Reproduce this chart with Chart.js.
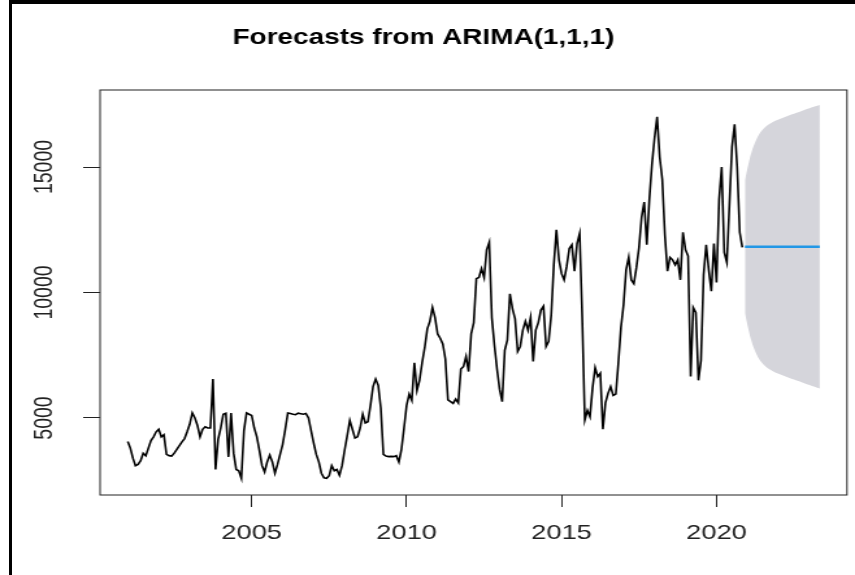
<!DOCTYPE html>
<html>
<head>
<meta charset="utf-8">
<title>Forecasts from ARIMA(1,1,1)</title>
<script src="https://cdn.jsdelivr.net/npm/chart.js@4.4.1/dist/chart.umd.min.js"></script>
<style>
    html, body { margin: 0; padding: 0; background: #fff; }
    #page { position: relative; width: 855px; height: 575px; overflow: hidden; background: #fff; }
    /* the source image is an R plot stretched sideways, so the chart is drawn narrow and widened */
    #stretch { position: absolute; left: 0; top: 0; width: 658px; height: 575px; transform: scaleX(1.2994); transform-origin: 0 0; }
    #frame { position: absolute; left: 9px; top: 0; width: 846px; height: 575px; box-sizing: border-box;
             border-left: 3px solid #000; border-top: 4px solid #000; pointer-events: none; }
</style>
</head>
<body>
<div id="page">
    <div id="stretch"><canvas id="chart"></canvas></div>
    <div id="frame"></div>
</div>
<script>
// monthly series, Jan 2001 .. Nov 2020
var startYear = 2001;
var observed = [
    4060, 3800, 3400, 3100, 3150, 3300, 3600, 3500, 3800, 4100, 4250, 4450,          // 2001
    4550, 4250, 4330, 3550, 3500, 3480, 3600, 3750, 3900, 4050, 4180, 4450,          // 2002
    4750, 5200, 5000, 4700, 4250, 4550, 4650, 4600, 4600, 6550, 2950, 4150,          // 2003
    4600, 5150, 5190, 3450, 5200, 3600, 2950, 2900, 2600, 4500, 5200, 5150,          // 2004
    5100, 4600, 4250, 3700, 3100, 2850, 3250, 3520, 3250, 2800, 3150, 3550,          // 2005
    3950, 4550, 5200, 5180, 5150, 5130, 5190, 5170, 5150, 5180, 5000, 4500,          // 2006
    4000, 3550, 3250, 2800, 2620, 2600, 2700, 3100, 2900, 2950, 2720, 3100,          // 2007
    3725, 4300, 4900, 4550, 4200, 4250, 4600, 5150, 4800, 4850, 5500, 6250,          // 2008
    6550, 6300, 5400, 3550, 3480, 3460, 3470, 3460, 3500, 3250, 3750, 4600,          // 2009
    5500, 5950, 5700, 7200, 6100, 6500, 7200, 7800, 8550, 8850, 9400, 9000,          // 2010
    8350, 8180, 7950, 7350, 5720, 5650, 5580, 5750, 5600, 6950, 7050, 7450,          // 2011
    6850, 8350, 8800, 10550, 10600, 10950, 10600, 11700, 12000, 9000, 7900, 6950,    // 2012
    6150, 5650, 7700, 8100, 9950, 9350, 8950, 7650, 7850, 8500, 8850, 8500,          // 2013
    9000, 7250, 8500, 8800, 9300, 9450, 7850, 8050, 9100, 11100, 12500, 11300,       // 2014
    10750, 10500, 11050, 11750, 11900, 10850, 11950, 12350, 9000, 4920, 5300, 5050,  // 2015
    6200, 7000, 6650, 6780, 4550, 5600, 5980, 6250, 5900, 5950, 7200, 8600,          // 2016
    9500, 10900, 11400, 10500, 10350, 11000, 11800, 13000, 13600, 11900, 13700, 15100, // 2017
    16150, 17000, 15400, 14500, 12300, 10850, 11400, 11300, 11100, 11300, 10500, 12400, // 2018
    11700, 11450, 6650, 9400, 9200, 6500, 7300, 10700, 11900, 10900, 10050, 11950,   // 2019
    10400, 13700, 15000, 11600, 11200, 13500, 15800, 16700, 15000, 12400, 11800      // 2020
];

// 30 month forecast, Dec 2020 .. May 2023
var fcMean = [
    11825, 11825, 11825, 11825, 11825, 11825, 11825, 11825, 11825, 11825,
    11825, 11825, 11825, 11825, 11825, 11825, 11825, 11825, 11825, 11825,
    11825, 11825, 11825, 11825, 11825, 11825, 11825, 11825, 11825, 11825
];
var fcUpper = [
    14480, 14950, 15400, 15740, 16000, 16220, 16380, 16500, 16600, 16680,
    16740, 16800, 16850, 16890, 16930, 16970, 17010, 17050, 17090, 17120,
    17160, 17190, 17230, 17270, 17310, 17340, 17380, 17410, 17440, 17470
];
var fcLower = [
    9170, 8700, 8250, 7910, 7650, 7430, 7270, 7150, 7050, 6970,
    6910, 6850, 6800, 6760, 6720, 6680, 6640, 6600, 6560, 6530,
    6490, 6460, 6420, 6380, 6340, 6310, 6270, 6240, 6210, 6180
];

var xTicks = [2005, 2010, 2015, 2020];
var yTicks = [5000, 10000, 15000];
var chartTitle = 'Forecasts from ARIMA(1,1,1)';

var fontFamily = "'Liberation Sans', Arial, Helvetica, sans-serif";

function toPoints(values, firstX) {
    return values.map(function(v, i) {
        return {x: firstX + i / 12, y: v};
    });
}

var fcStart = startYear + observed.length / 12;

// R draws a plain box round the plot region
var plotBox = {
    id: 'plotBox',
    afterDatasetsDraw: function(chart) {
        var a = chart.chartArea;
        var ctx = chart.ctx;
        ctx.save();
        ctx.strokeStyle = '#222';
        ctx.lineWidth = 1;
        ctx.strokeRect(a.left, a.top, a.right - a.left, a.bottom - a.top);
        ctx.restore();
    }
};

var chart = new Chart(document.getElementById('chart'), {
    type: 'line',
    data: {
        datasets: [{
            // 95% interval, upper edge filled down to the lower edge
            data: toPoints(fcUpper, fcStart),
            order: 3,
            borderWidth: 0,
            borderColor: 'rgba(0,0,0,0)',
            backgroundColor: 'rgb(213,213,219)',
            pointRadius: 0,
            fill: '+1'
        }, {
            data: toPoints(fcLower, fcStart),
            order: 3,
            borderWidth: 0,
            borderColor: 'rgba(0,0,0,0)',
            pointRadius: 0,
            fill: false
        }, {
            data: toPoints(observed, startYear),
            order: 2,
            borderColor: '#000',
            borderWidth: 1.6,
            pointRadius: 0,
            fill: false
        }, {
            data: toPoints(fcMean, fcStart),
            order: 1,
            borderColor: '#2297E6',
            borderWidth: 2.4,
            pointRadius: 0,
            fill: false
        }]
    },
    options: {
        responsive: true,
        maintainAspectRatio: false,
        animation: false,
        layout: {
            padding: {left: 0, right: 6.2, top: 0, bottom: 0}
        },
        plugins: {
            legend: {display: false},
            tooltip: {enabled: false},
            title: {
                display: true,
                text: chartTitle,
                color: '#000',
                font: {family: fontFamily, size: 21.5, weight: 'bold', lineHeight: 1.2},
                padding: {top: 25, bottom: 39.2}
            }
        },
        scales: {
            x: {
                type: 'linear',
                min: 2000.107,
                max: 2024.21,
                afterBuildTicks: function(scale) {
                    scale.ticks = xTicks.map(function(v) { return {value: v}; });
                },
                afterFit: function(scale) {
                    scale.height = 80;
                },
                border: {display: false},
                grid: {drawOnChartArea: false, drawTicks: true, tickLength: 12, color: '#222', lineWidth: 1},
                ticks: {
                    color: '#222',
                    font: {family: fontFamily, size: 21},
                    padding: 14,
                    autoSkip: false,
                    minRotation: 0,
                    maxRotation: 0,
                    callback: function(v) { return String(v); }
                }
            },
            y: {
                min: 1932,
                max: 18068,
                afterBuildTicks: function(scale) {
                    scale.ticks = yTicks.map(function(v) { return {value: v}; });
                },
                afterFit: function(scale) {
                    scale.width = 77;
                },
                border: {display: false},
                grid: {drawOnChartArea: false, drawTicks: true, tickLength: 13, color: '#222', lineWidth: 1},
                ticks: {
                    color: '#222',
                    font: {family: fontFamily, size: 19.5},
                    padding: 2.6,
                    crossAlign: 'center',
                    minRotation: 90,
                    maxRotation: 90,
                    callback: function(v) { return String(v); }
                }
            }
        }
    },
    plugins: [plotBox]
});
</script>
</body>
</html>
